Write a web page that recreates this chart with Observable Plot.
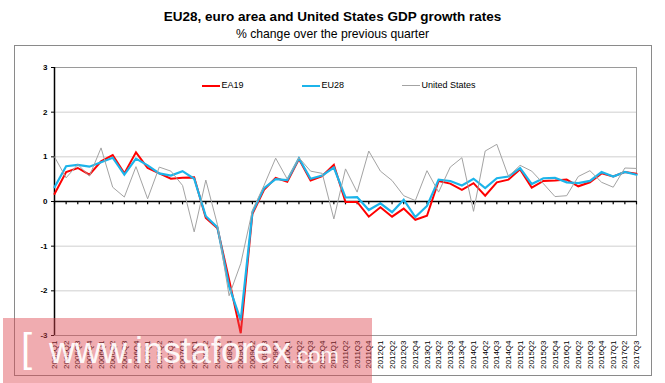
<!DOCTYPE html>
<html><head><meta charset="utf-8">
<script src="https://cdn.jsdelivr.net/npm/d3@7"></script>
<script src="https://cdn.jsdelivr.net/npm/@observablehq/plot@0.6"></script>
<style>
body{margin:0;background:#fff;font-family:"Liberation Sans",Arial,sans-serif;}
#wrap{position:relative;width:665px;height:383px;overflow:hidden;background:#fff;}
#title{position:absolute;left:0;width:665px;top:9px;text-align:center;font-weight:bold;font-size:13.5px;line-height:16px;color:#000;}
#sub{position:absolute;left:0;width:665px;top:27px;text-align:center;font-size:12.2px;line-height:14px;color:#000;}
#frame{position:absolute;left:14px;top:45px;width:638px;height:331px;border:1px solid #8a8a8a;box-sizing:border-box;}
#chart{position:absolute;left:0;top:0;}
.lg{position:absolute;top:79px;font-size:9px;color:#000;height:12px;line-height:12px;white-space:nowrap;}
.lg span.sw{display:inline-block;width:18px;vertical-align:middle;margin-right:1.5px;}
#wm{position:absolute;left:3px;top:318px;width:369px;height:65px;background:rgba(221,70,80,0.45);}
#wm .br{position:absolute;left:18px;top:8px;font-size:40px;color:#fff;font-weight:300;}
#wm .tx{position:absolute;left:46px;top:12px;font-size:36px;color:rgba(255,255,255,0.92);white-space:nowrap;}
#wm .tx small{font-size:22px;}
</style></head><body>
<div id="wrap">
 <div id="title">EU28, euro area and United States GDP growth rates</div>
 <div id="sub">% change over the previous quarter</div>
 <div id="frame"></div>
 <div id="chart"></div>
 <div id="legend"></div>
 <div id="wm"><div class="br">[</div><div class="tx">www.instaforex<small>.com</small></div></div>
</div>
<script>
const quarters = ["2005Q1","2005Q2","2005Q3","2005Q4","2006Q1","2006Q2","2006Q3","2006Q4",
"2007Q1","2007Q2","2007Q3","2007Q4","2008Q1","2008Q2","2008Q3","2008Q4",
"2009Q1","2009Q2","2009Q3","2009Q4","2010Q1","2010Q2","2010Q3","2010Q4",
"2011Q1","2011Q2","2011Q3","2011Q4","2012Q1","2012Q2","2012Q3","2012Q4",
"2013Q1","2013Q2","2013Q3","2013Q4","2014Q1","2014Q2","2014Q3","2014Q4",
"2015Q1","2015Q2","2015Q3","2015Q4","2016Q1","2016Q2","2016Q3","2016Q4",
"2017Q1","2017Q2","2017Q3"];
const ea19 = [0.17,0.66,0.75,0.60,0.90,1.04,0.63,1.10,0.75,0.63,0.51,0.53,0.54,-0.37,-0.60,-1.75,-2.95,-0.28,0.26,0.53,0.44,0.95,0.47,0.57,0.82,-0.01,-0.01,-0.34,-0.13,-0.34,-0.16,-0.41,-0.32,0.46,0.40,0.26,0.41,0.13,0.43,0.49,0.72,0.31,0.46,0.47,0.49,0.34,0.43,0.63,0.56,0.66,0.62];
const eu28 = [0.32,0.79,0.82,0.78,0.88,0.98,0.60,0.96,0.81,0.63,0.58,0.68,0.51,-0.33,-0.58,-1.90,-2.66,-0.24,0.30,0.50,0.48,0.97,0.51,0.58,0.76,0.09,0.10,-0.19,-0.04,-0.24,0.04,-0.35,-0.10,0.49,0.46,0.36,0.51,0.30,0.52,0.56,0.75,0.39,0.52,0.53,0.43,0.41,0.46,0.66,0.56,0.66,0.60];
const us = [1.00,0.53,0.83,0.57,1.20,0.32,0.10,0.78,0.06,0.77,0.68,0.36,-0.68,0.48,-0.52,-2.11,-1.39,-0.20,0.36,0.97,0.50,0.98,0.68,0.63,-0.39,0.73,0.21,1.13,0.68,0.47,0.13,0.02,0.69,0.21,0.77,0.98,-0.22,1.13,1.28,0.56,0.81,0.68,0.40,0.11,0.13,0.56,0.69,0.43,0.32,0.75,0.74];
const seriesNames = ["EA19","EU28","United States"];
const seriesColors = ["#ff0000","#1cb4ea","#a3a3a3"];
const seriesWidths = [2,2.2,1];
const yTicks = [-3,-2,-1,0,1,2,3];
const gridTicks = [-2,-1,1,2];

const seriesValues = [ea19, eu28, us];
const rows = [];
seriesValues.forEach((vals, k) => vals.forEach((v, i) => rows.push({q: quarters[i], s: seriesNames[k], v})));

const chart = Plot.plot({
  width: 665, height: 383,
  marginLeft: 54, marginRight: 29, marginTop: 67, marginBottom: 48,
  style: {fontFamily: '"Liberation Sans", Arial, sans-serif', color: "#000", background: "transparent"},
  x: {type: "point", domain: quarters, padding: 0},
  y: {domain: [-3, 3]},
  marks: [
    Plot.ruleY(gridTicks, {stroke: "#cfcfcf", strokeWidth: 1}),
    Plot.frame({stroke: "#9a9a9a", strokeWidth: 1}),
    Plot.ruleY([0], {stroke: "#000", strokeWidth: 1.5}),
    Plot.ruleX(quarters, {x: d => d, y1: 0, y2: -0.075, stroke: "#000", strokeWidth: 1.2}),
    Plot.ruleX([quarters[0]], {stroke: "#000", strokeWidth: 1.5}),
    Plot.axisY({ticks: yTicks, tickSize: 3, tickPadding: 4, fontSize: 8, fontWeight: "bold",
      tickFormat: d => String(d), label: null}),
    Plot.axisX({anchor: "bottom", tickSize: 0, tickPadding: 5, tickRotate: -90, fontSize: 8, label: null}),
    ...seriesNames.map((name, k) =>
      Plot.line(rows.filter(r => r.s === name), {x: "q", y: "v", stroke: seriesColors[k],
        strokeWidth: seriesWidths[k], strokeLinejoin: "miter", strokeMiterlimit: 4}))
  ]
});
document.getElementById("chart").appendChild(chart);

const legendX = [202, 302, 402];
const lg = document.getElementById("legend");
seriesNames.forEach((name, k) => {
  const d = document.createElement("div");
  d.className = "lg";
  d.style.left = legendX[k] + "px";
  d.innerHTML = `<span class="sw" style="border-top:${seriesWidths[k]}px solid ${seriesColors[k]}"></span>${name}`;
  lg.appendChild(d);
});
</script>
</body></html>
